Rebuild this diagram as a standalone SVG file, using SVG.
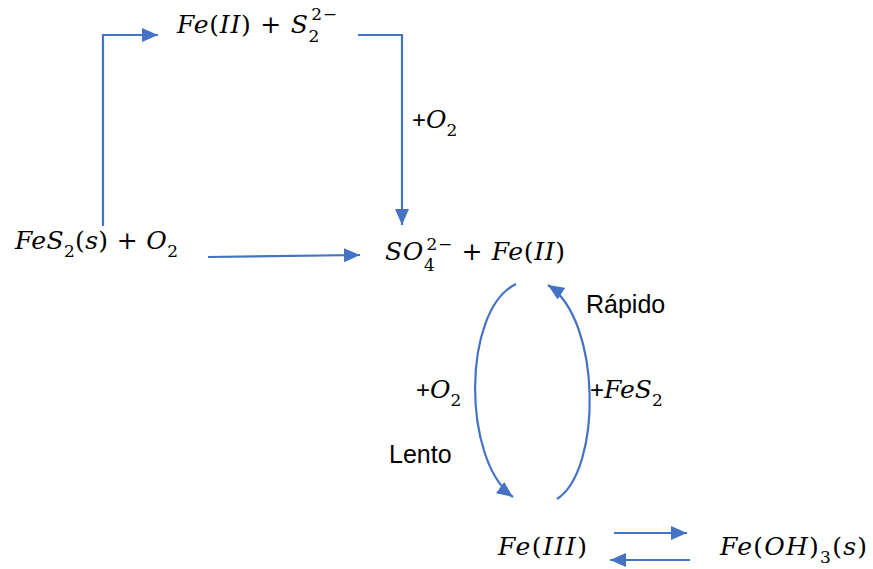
<svg xmlns="http://www.w3.org/2000/svg" width="873" height="569" viewBox="0 0 873 569">
<style>
.m{font-family:"DejaVu Serif",serif;font-style:italic;font-size:25px;fill:#000}
.u{font-style:normal}
.s{font-style:normal;font-size:17px}
.t{font-family:"Liberation Sans",Arial,sans-serif;font-size:25px;fill:#000}
.p{font-family:"Liberation Sans",Arial,sans-serif;font-style:normal;font-size:24px}
.c{fill:none;stroke:#4472C4;stroke-width:2.2;marker-end:url(#ah)}
</style>
<defs>
<marker id="ah" markerUnits="userSpaceOnUse" markerWidth="16" markerHeight="14" refX="16" refY="7" orient="auto">
<path d="M0,0 L16,7 L0,14 z" fill="#4472C4"/>
</marker>
</defs>
<rect width="873" height="569" fill="#fff"/>

<g id="connectors">
<path class="c" d="M103,226 V35 H158"/>
<path class="c" d="M358,35 H402 V225"/>
<path class="c" d="M208,257 L360,255"/>
<path class="c" d="M516,284 C462,310 462,460 513,497"/>
<path class="c" d="M557,499 C602,470 602,320 548,285"/>
<path class="c" d="M614,533 H687"/>
<path class="c" d="M690,560 H610"/>
</g>

<g id="node-top">
<text class="m" x="177" y="33" textLength="160" lengthAdjust="spacing">Fe<tspan class="u">(</tspan>II<tspan class="u">) + </tspan>S<tspan class="s" y="42">2</tspan><tspan class="s" dx="-9" y="20">2−</tspan></text>
</g>

<g id="node-left">
<text class="m" x="15" y="249" textLength="163" lengthAdjust="spacing">FeS<tspan class="s" y="257">2</tspan><tspan class="u" y="249">(</tspan>s<tspan class="u">) + </tspan>O<tspan class="s" y="257">2</tspan></text>
</g>

<g id="node-center">
<text class="m" x="385" y="260" textLength="180" lengthAdjust="spacing">SO<tspan class="s" y="271">4</tspan><tspan class="s" dx="-9" y="250">2−</tspan><tspan class="u" y="260"> + </tspan>Fe<tspan class="u">(</tspan>II<tspan class="u">)</tspan></text>
</g>

<g id="node-fe3">
<text class="m" x="498" y="555" textLength="89" lengthAdjust="spacing">Fe<tspan class="u">(</tspan>III<tspan class="u">)</tspan></text>
</g>

<g id="node-feoh3">
<text class="m" x="720" y="555" textLength="147" lengthAdjust="spacing">Fe<tspan class="u">(</tspan>OH<tspan class="u">)</tspan><tspan class="s" y="563">3</tspan><tspan class="u" y="555">(</tspan>s<tspan class="u">)</tspan></text>
</g>

<g id="labels">
<text class="m" x="412" y="128"><tspan class="p">+</tspan>O<tspan class="s" y="136">2</tspan></text>
<text class="m" x="416" y="398"><tspan class="p">+</tspan>O<tspan class="s" y="406">2</tspan></text>
<text class="m" x="590" y="398"><tspan class="p">+</tspan>FeS<tspan class="s" y="406">2</tspan></text>
<text class="t" x="586" y="313">Rápido</text>
<text class="t" x="389" y="463">Lento</text>
</g>
</svg>
